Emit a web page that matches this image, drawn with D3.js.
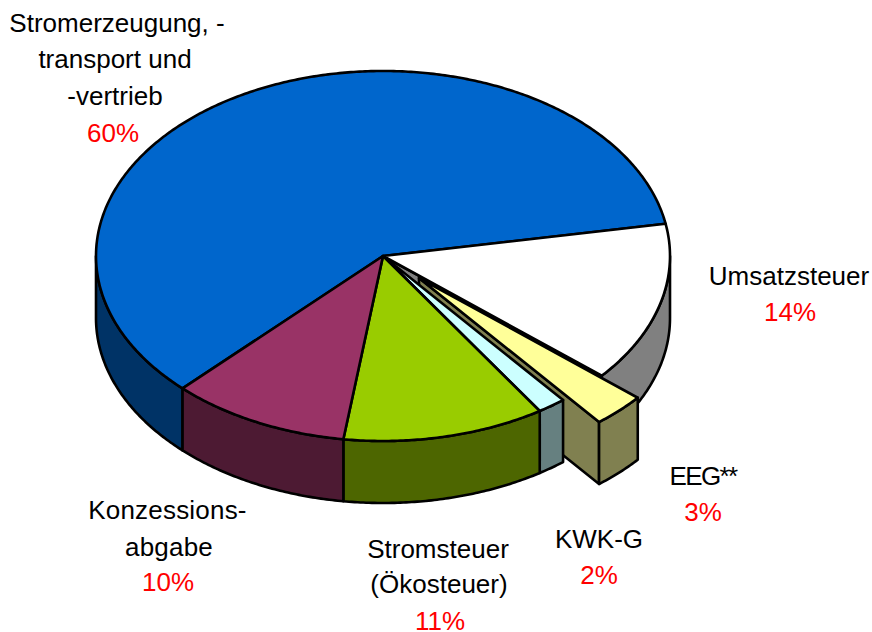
<!DOCTYPE html>
<html>
<head>
<meta charset="utf-8">
<script src="https://cdnjs.cloudflare.com/ajax/libs/d3/7.8.5/d3.min.js"></script>
<style>html,body{margin:0;padding:0;background:#fff}svg{display:block}</style>
</head>
<body>
<svg id="chart" width="872" height="632"></svg>
<script>
const categories = [
  ["Stromerzeugung, -", "transport und", "-vertrieb"],
  ["Umsatzsteuer"],
  ["EEG**"],
  ["KWK-G"],
  ["Stromsteuer", "(Ökosteuer)"],
  ["Konzessions-", "abgabe"]
];
const sliceValues = [59.9, 14, 3, 1.6, 11.4, 10.1];
const percentLabels = ["60%", "14%", "3%", "2%", "11%", "10%"];

// Style and layout
const topColors  = ["#0066CC", "#FFFFFF", "#FFFF99", "#CCFFFF", "#99CC00", "#993366"];
const sideColors = ["#003366", "#808080", "#808050", "#668080", "#4D6600", "#4D1A33"];
// one [x, baseline] per printed line of each label, the percentage last
const labelLines = [
  [[117,32],[115,68],[115,105],[113,142]],
  [[789,285],[790,321]],
  [[703,485],[703,521]],
  [[599,548],[599,584]],
  [[438,558],[439,593],[440,630]],
  [[167.5,519],[169,556],[168,591]]
];
const labelSpacing = [0, 0, -1.6, 0, 0, 0.2];
const depth = 62;
const explodedIndex = 2;
const explode = [36, 22];

const sx = d3.scaleLinear([-1, 1], [96, 670]);
const sy = d3.scaleLinear([-1, 1], [71, 441]);

const arcs = d3.pie().sort(null).value(d => d)
  .startAngle(224.3 * Math.PI / 180)
  .endAngle((224.3 + 360) * Math.PI / 180)(sliceValues);

const svg = d3.select("#chart");
const line = d3.line();

function pt(a, dx = 0, dy = 0) { return [sx(Math.sin(a)) + dx, sy(-Math.cos(a)) + dy]; }
function center(dx = 0, dy = 0) { return [sx(0) + dx, sy(0) + dy]; }
function rim(a0, a1, dx, dy) {
  const n = Math.max(2, Math.ceil(Math.abs(a1 - a0) / 0.01));
  return d3.range(n + 1).map(i => pt(a0 + (a1 - a0) * i / n, dx, dy));
}
function draw(points, fill) {
  svg.append("path").attr("d", line(points) + "Z")
    .attr("fill", fill).attr("stroke", "#000").attr("stroke-width", 2.6)
    .attr("stroke-linejoin", "round");
}
function topFace(i, dx = 0, dy = 0) {
  const d = arcs[i];
  draw([center(dx, dy), ...rim(d.startAngle, d.endAngle, dx, dy)], topColors[i]);
}
// outer wall, limited to the part that faces the viewer (between 90 and 270 degrees)
function outerWall(i, dx = 0, dy = 0) {
  const lo = Math.PI / 2, hi = 3 * Math.PI / 2;
  const d = arcs[i];
  const candidates = [[d.startAngle, d.endAngle], [d.startAngle - 2 * Math.PI, d.endAngle - 2 * Math.PI]];
  candidates.forEach(([s, e]) => {
    const a0 = Math.max(s, lo), a1 = Math.min(e, hi);
    if (a1 <= a0) return;
    const upper = rim(a0, a1, dx, dy);
    const lower = rim(a1, a0, dx, dy + depth);
    draw([...upper, ...lower], sideColors[i]);
  });
}
function cutFace(angle, i, dx = 0, dy = 0) {
  const p = pt(angle, dx, dy), c = center(dx, dy);
  draw([c, p, [p[0], p[1] + depth], [c[0], c[1] + depth]], sideColors[i]);
}

// Back to front
outerWall(0);
outerWall(1);
cutFace(arcs[1].endAngle, 1);
topFace(0);
topFace(1);
cutFace(arcs[explodedIndex].endAngle, explodedIndex, explode[0], explode[1]);
outerWall(explodedIndex, explode[0], explode[1]);
topFace(explodedIndex, explode[0], explode[1]);
[3, 4, 5].forEach(i => outerWall(i));
[3, 4, 5].forEach(i => topFace(i));

// Labels
const font = "'Liberation Sans', Arial, sans-serif";
categories.forEach((lines, i) => {
  lines.concat(percentLabels[i]).forEach((t, j) => {
    const [x, y] = labelLines[i][j];
    svg.append("text").attr("x", x).attr("y", y)
      .attr("text-anchor", "middle").attr("font-family", font)
      .attr("font-size", 26)
      .attr("letter-spacing", j === lines.length ? 0 : labelSpacing[i])
      .attr("fill", j === lines.length ? "#FF0000" : "#000").text(t);
  });
});
</script>
</body>
</html>
